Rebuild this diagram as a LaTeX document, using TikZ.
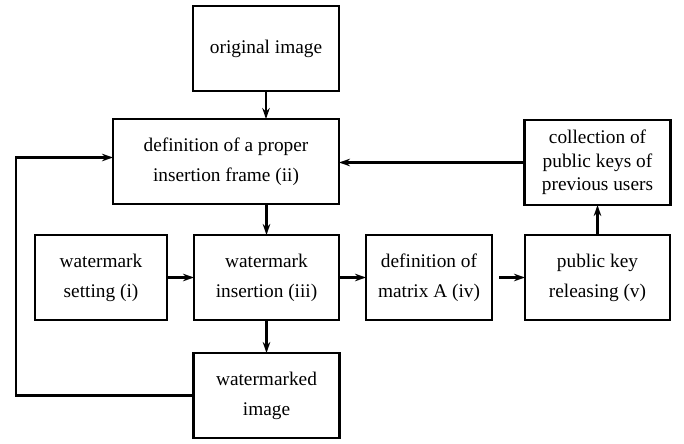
\documentclass[tikz,border=0pt]{standalone}
\usepackage{fontspec}
\setmainfont{Liberation Serif}
\usetikzlibrary{arrows.meta, positioning}

\begin{document}
\begin{tikzpicture}[
    every node/.style={font=\fontsize{11}{17}\selectfont},
    block/.style={draw, line width=1.3pt, align=center, minimum height=1.7cm, inner sep=2pt, outer sep=0pt},
    arrow/.style={-{Stealth[length=2.2mm, width=1.5mm, inset=0.7mm]}, line width=1.2pt}
]
\useasboundingbox (0,0) rectangle (13.68,-8.86);

% Colonne principale
\node[block, minimum width=2.92cm] (orig) at (5.32,-0.97) {original image};
\node[block, minimum width=4.52cm, below=0.56cm of orig.south east, anchor=north east] (def) {definition of a proper\\insertion frame (ii)};
\node[block, minimum width=2.9cm, below=0.62cm of def.south east, anchor=north east] (insert) {watermark\\insertion (iii)};
\node[block, minimum width=2.92cm, below=0.66cm of insert] (marked) {watermarked\\image};

% Ligne du milieu
\node[block, minimum width=2.64cm, left=0.54cm of insert] (setting) {watermark\\setting (i)};
\node[block, minimum width=2.52cm, right=0.54cm of insert] (matrix) {definition of\\matrix A (iv)};
\node[block, minimum width=2.9cm, right=0.66cm of matrix] (pubkey) {public key\\releasing (v)};
\node[block, minimum width=2.92cm, above=0.6cm of pubkey, font=\fontsize{11}{13.5}\selectfont] (collect) {collection of\\public keys of\\previous users};

% Flèches
\draw[arrow] (orig) -- (orig.south |- def.north);
\draw[arrow] (def.south -| insert.north) -- (insert);
\draw[arrow] (insert) -- (marked);
\draw[arrow] (setting) -- (insert);
\draw[arrow] (insert) -- (matrix);
\draw[arrow, shorten <=0.14cm] (matrix) -- (pubkey);
\draw[arrow] (pubkey) -- (collect);
\draw[arrow] (collect.west) -- (collect.west -| def.east);

% Boucle de retour
\coordinate (loop) at (0.32,0);
\draw[arrow] (marked.west) -- (marked.west -| loop) |- ([yshift=0.08cm]def.west);

\end{tikzpicture}
\end{document}
